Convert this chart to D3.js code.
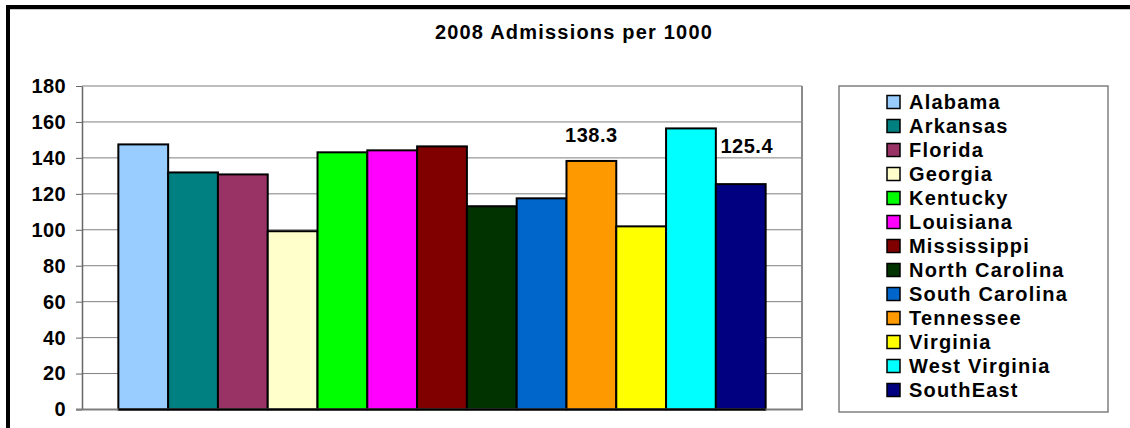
<!DOCTYPE html>
<html>
<head>
<meta charset="utf-8">
<script src="https://cdn.jsdelivr.net/npm/d3@7"></script>
<style>
  body { margin: 0; background: #fff; }
  svg { display: block; font-family: "Liberation Sans", Arial, sans-serif; font-weight: bold; }
</style>
</head>
<body>
<svg id="chart" width="1130" height="428"></svg>
<script>
// Data
const states = ["Alabama", "Arkansas", "Florida", "Georgia", "Kentucky", "Louisiana", "Mississippi",
  "North Carolina", "South Carolina", "Tennessee", "Virginia", "West Virginia", "SouthEast"];
const admissions = [147.5, 131.9, 130.8, 99.2, 143.1, 144.2, 146.4, 113.1, 117.5, 138.3, 101.9, 156.4, 125.4];
const colors = ["#99ccff", "#008080", "#993366", "#ffffcc", "#00ff00", "#ff00ff", "#800000",
  "#003300", "#0066cc", "#ff9900", "#ffff00", "#00ffff", "#000080"];
const yTicks = [0, 20, 40, 60, 80, 100, 120, 140, 160, 180];
// only these two bars carry a value label in the original
const labelled = ["Tennessee", "SouthEast"];

const svg = d3.select('#chart');

const plot = { left: 82, right: 802, top: 86, bottom: 409.5 };

const x = d3.scaleBand()
  .domain(states)
  .range([plot.left, plot.right])
  .paddingInner(0)
  .paddingOuter(0.73);

const y = d3.scaleLinear()
  .domain([0, 180])
  .range([plot.bottom, plot.top]);

// outer frame
svg.append('rect')
  .attr('x', 8).attr('y', 7)
  .attr('width', 1140).attr('height', 440)
  .attr('fill', 'none')
  .attr('stroke', '#000')
  .attr('stroke-width', 4);
svg.append('line')
  .attr('x1', 10).attr('x2', 1130)
  .attr('y1', 9.5).attr('y2', 9.5)
  .attr('stroke', '#c8c8c8');

// title
svg.append('text')
  .attr('x', 574).attr('y', 39)
  .attr('text-anchor', 'middle')
  .style('font-size', '20px')
  .style('letter-spacing', '1.2px')
  .text('2008 Admissions per 1000');

// gridlines
svg.append('g')
  .selectAll('line')
  .data(yTicks.filter(d => d > 0))
  .join('line')
  .attr('x1', plot.left).attr('x2', plot.right)
  .attr('y1', d => y(d)).attr('y2', d => y(d))
  .attr('stroke', '#7f7f7f')
  .attr('stroke-width', 1);

// right border of plot area
svg.append('line')
  .attr('x1', plot.right).attr('x2', plot.right)
  .attr('y1', plot.top).attr('y2', plot.bottom)
  .attr('stroke', '#8a8a8a')
  .attr('stroke-width', 2);

// y axis
const yAxis = svg.append('g')
  .attr('transform', `translate(${plot.left},0)`)
  .call(d3.axisLeft(y).tickValues(yTicks).tickSize(6).tickPadding(10).tickSizeOuter(0));
yAxis.select('.domain').attr('stroke', '#666').attr('stroke-width', 1.5);
yAxis.selectAll('.tick line').attr('stroke', '#666');
yAxis.selectAll('.tick text')
  .attr('fill', '#000')
  .style('font-size', '20px')
  .style('font-weight', 'bold')
  .style('font-family', '"Liberation Sans", Arial, sans-serif')
  .style('letter-spacing', '0.4px');

// bars
svg.append('g')
  .selectAll('rect')
  .data(states)
  .join('rect')
  .attr('x', d => x(d))
  .attr('y', (d, i) => y(admissions[i]))
  .attr('width', x.bandwidth())
  .attr('height', (d, i) => y(0) - y(admissions[i]))
  .attr('fill', (d, i) => colors[i])
  .attr('stroke', '#000')
  .attr('stroke-width', 2);

// baseline
svg.append('line')
  .attr('x1', plot.left - 6).attr('x2', plot.right + 1)
  .attr('y1', y(0)).attr('y2', y(0))
  .attr('stroke', '#7f7f7f')
  .attr('stroke-width', 2);
svg.append('line')
  .attr('x1', x(states[0])).attr('x2', x(states[states.length - 1]) + x.bandwidth())
  .attr('y1', y(0)).attr('y2', y(0))
  .attr('stroke', '#000')
  .attr('stroke-width', 2);

// value labels
svg.append('g')
  .selectAll('text')
  .data(labelled)
  .join('text')
  .attr('x', d => x(d) + x.bandwidth() / 2 + (d === 'SouthEast' ? 6 : 0))
  .attr('y', d => y(admissions[states.indexOf(d)]) - (d === 'SouthEast' ? 31 : 19))
  .attr('text-anchor', 'middle')
  .style('font-size', '20px')
  .style('letter-spacing', '0.5px')
  .text(d => admissions[states.indexOf(d)].toFixed(1));

// legend
const legend = svg.append('g');
legend.append('rect')
  .attr('x', 839).attr('y', 86)
  .attr('width', 269).attr('height', 326)
  .attr('fill', '#fff')
  .attr('stroke', '#7f7f7f')
  .attr('stroke-width', 1.5);

const rows = legend.selectAll('g.row')
  .data(states)
  .join('g')
  .attr('class', 'row')
  .attr('transform', (d, i) => `translate(887,${102 + i * 24})`);

rows.append('rect')
  .attr('x', 0).attr('y', -6.5)
  .attr('width', 13).attr('height', 13)
  .attr('fill', (d, i) => colors[i])
  .attr('stroke', '#000')
  .attr('stroke-width', 1.5);

rows.append('text')
  .attr('x', 22)
  .attr('dy', '0.36em')
  .style('font-size', '20px')
  .style('letter-spacing', '1.2px')
  .text(d => d);
</script>
</body>
</html>
